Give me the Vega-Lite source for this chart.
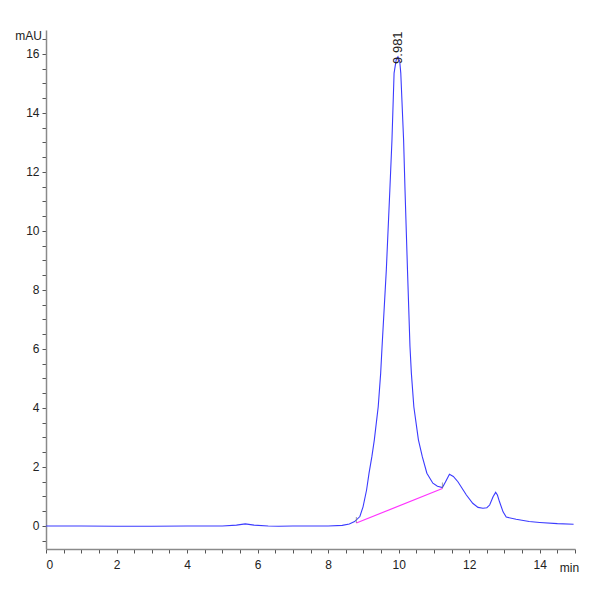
{
  "$schema": "https://vega.github.io/schema/vega-lite/v6.json",
  "width": 529,
  "height": 519,
  "autosize": "none",
  "padding": {"left": 46, "top": 30, "right": 25, "bottom": 51},
  "background": "white",
  "config": {
    "view": {"stroke": null},
    "axis": {
      "grid": false,
      "domainColor": "#8a8a8a",
      "domainWidth": 1.5,
      "tickColor": "#555555",
      "tickWidth": 1,
      "tickSize": 4,
      "labelOverlap": false,
      "labelFont": "Liberation Sans",
      "labelFontSize": 12,
      "labelColor": "#222222",
      "titleFont": "Liberation Sans",
      "titleFontSize": 12,
      "titleFontWeight": "normal",
      "titleColor": "#222222"
    }
  },
  "datasets": {
    "trace": [
      {"t": 0, "v": 0.0}, {"t": 1, "v": 0.0}, {"t": 2, "v": -0.01}, {"t": 3, "v": -0.01},
      {"t": 4, "v": 0.0}, {"t": 5, "v": 0.0}, {"t": 5.4, "v": 0.03}, {"t": 5.65, "v": 0.07},
      {"t": 5.9, "v": 0.03}, {"t": 6.3, "v": 0.0}, {"t": 6.6, "v": -0.01}, {"t": 7, "v": 0.0},
      {"t": 8, "v": 0.0}, {"t": 8.4, "v": 0.02}, {"t": 8.6, "v": 0.07}, {"t": 8.75, "v": 0.15},
      {"t": 8.9, "v": 0.32}, {"t": 8.99, "v": 0.65}, {"t": 9.09, "v": 1.22}, {"t": 9.16, "v": 1.79},
      {"t": 9.24, "v": 2.35}, {"t": 9.31, "v": 2.92}, {"t": 9.42, "v": 4.04}, {"t": 9.49, "v": 5.18},
      {"t": 9.53, "v": 6.1}, {"t": 9.65, "v": 8.68}, {"t": 9.75, "v": 11.39}, {"t": 9.81, "v": 13.08},
      {"t": 9.87, "v": 15.35}, {"t": 9.93, "v": 15.8}, {"t": 9.98, "v": 15.9}, {"t": 10.03, "v": 15.75},
      {"t": 10.06, "v": 15.35}, {"t": 10.14, "v": 13.08}, {"t": 10.18, "v": 11.39}, {"t": 10.25, "v": 8.68},
      {"t": 10.32, "v": 6.1}, {"t": 10.36, "v": 5.18}, {"t": 10.43, "v": 4.04}, {"t": 10.56, "v": 2.92},
      {"t": 10.67, "v": 2.35}, {"t": 10.80, "v": 1.79}, {"t": 10.97, "v": 1.45}, {"t": 11.1, "v": 1.35},
      {"t": 11.24, "v": 1.3}, {"t": 11.33, "v": 1.5}, {"t": 11.44, "v": 1.75}, {"t": 11.55, "v": 1.68},
      {"t": 11.68, "v": 1.5}, {"t": 11.92, "v": 1.05}, {"t": 12.1, "v": 0.77}, {"t": 12.25, "v": 0.63},
      {"t": 12.39, "v": 0.6}, {"t": 12.5, "v": 0.62}, {"t": 12.58, "v": 0.71}, {"t": 12.68, "v": 1.0},
      {"t": 12.75, "v": 1.14}, {"t": 12.8, "v": 1.05}, {"t": 12.86, "v": 0.82}, {"t": 12.96, "v": 0.48},
      {"t": 13.05, "v": 0.3}, {"t": 13.33, "v": 0.23}, {"t": 13.7, "v": 0.15}, {"t": 14, "v": 0.12},
      {"t": 14.5, "v": 0.08}, {"t": 14.96, "v": 0.06}
    ],
    "baseline": [{"t": 8.8, "v": 0.1}, {"t": 11.24, "v": 1.27}],
    "peak": [{"t": 9.981, "v": 15.66, "label": "9.981"}]
  },
  "layer": [
    {
      "data": {"name": "trace"},
      "mark": {"type": "line", "color": "#3b3bff", "strokeWidth": 1.1, "clip": true},
      "encoding": {
        "x": {
          "field": "t", "type": "quantitative",
          "scale": {"domain": [0, 15], "nice": false, "zero": false},
          "axis": {
            "values": [0,0.5,1,1.5,2,2.5,3,3.5,4,4.5,5,5.5,6,6.5,7,7.5,8,8.5,9,9.5,10,10.5,11,11.5,12,12.5,13,13.5,14,14.5,15],
            "tickCount": 200,
            "labelOverlap": false,
            "labelExpr": "datum.value % 2 == 0 && datum.value < 15 ? format(datum.value, 'd') : ''",
            "labelPadding": 6,
            "title": "min",
            "titleAngle": 0,
            "titleX": 523,
            "titleY": 18,
            "titleAlign": "center",
            "titleBaseline": "middle"
          }
        },
        "y": {
          "field": "v", "type": "quantitative",
          "scale": {"domain": [-0.78, 16.81], "nice": false, "zero": false},
          "axis": {
            "values": [-0.5,0,0.5,1,1.5,2,2.5,3,3.5,4,4.5,5,5.5,6,6.5,7,7.5,8,8.5,9,9.5,10,10.5,11,11.5,12,12.5,13,13.5,14,14.5,15,15.5,16,16.5],
            "tickCount": 200,
            "labelOverlap": false,
            "labelExpr": "datum.value % 2 == 0 ? format(datum.value, 'd') : ''",
            "labelPadding": 3,
            "title": "mAU",
            "titleAngle": 0,
            "titleX": -18,
            "titleY": 5,
            "titleAlign": "center",
            "titleBaseline": "middle"
          }
        }
      }
    },
    {
      "data": {"name": "baseline"},
      "mark": {"type": "line", "color": "#ff33ff", "strokeWidth": 1.2},
      "encoding": {
        "x": {"field": "t", "type": "quantitative"},
        "y": {"field": "v", "type": "quantitative"}
      }
    },
    {
      "data": {"name": "baseline"},
      "mark": {"type": "tick", "orient": "vertical", "color": "#777777", "size": 6, "thickness": 1, "yOffset": -3},
      "encoding": {
        "x": {"field": "t", "type": "quantitative"},
        "y": {"field": "v", "type": "quantitative"}
      }
    },
    {
      "data": {"name": "peak"},
      "mark": {"type": "text", "angle": 270, "align": "left", "baseline": "middle", "font": "Liberation Sans", "fontSize": 13, "color": "#222222"},
      "encoding": {
        "x": {"field": "t", "type": "quantitative"},
        "y": {"field": "v", "type": "quantitative"},
        "text": {"field": "label"}
      }
    }
  ]
}
